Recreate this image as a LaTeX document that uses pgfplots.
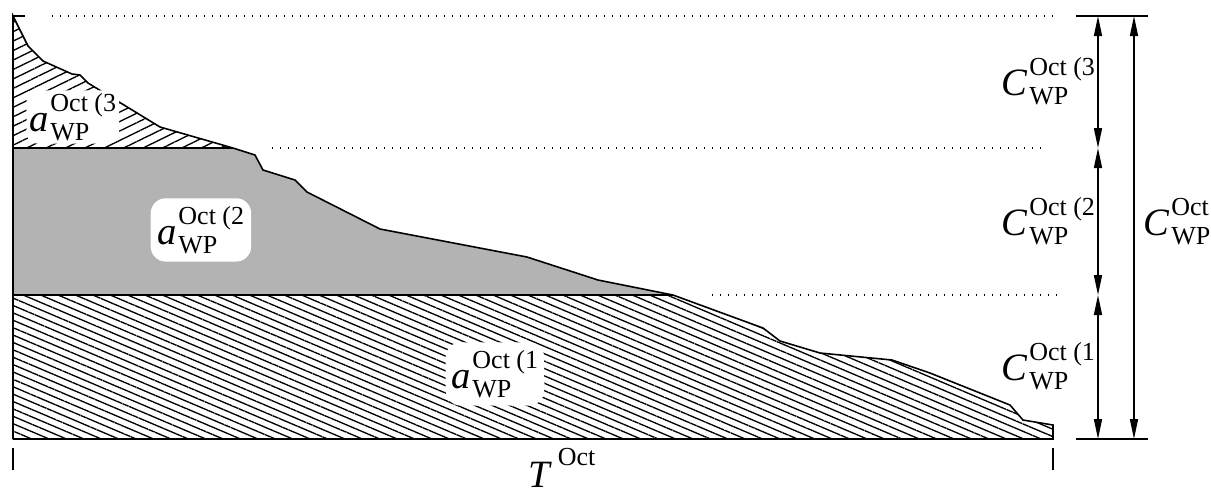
\documentclass[border=0pt]{standalone}
\usepackage{fontspec}
\setmainfont{Liberation Serif}
\usepackage{pgfplots}
\pgfplotsset{compat=1.18}
\usetikzlibrary{patterns.meta,arrows.meta}
\definecolor{areagray}{HTML}{B3B3B3}
\newcommand{\lab}[3]{{\fontsize{11}{13}\selectfont\textit{#1}}\kern0.4pt{\fontsize{7.4}{9}\selectfont\raisebox{5.6pt}{\rlap{#2}}\raisebox{-2.6pt}{\rlap{#3}}\phantom{#2}}}
\begin{document}
\begin{tikzpicture}
\begin{axis}[width=12.11cm,height=4.92cm,scale only axis,
  xmin=0,xmax=1211,ymin=0,ymax=492,y dir=reverse,hide axis,clip=false]
\path (axis cs:0,0) rectangle (axis cs:1211,492);
% layer 1 (bottom, hatched)
\addplot[draw=none,pattern={Lines[angle=-23,distance=0.68mm,line width=0.38pt]}] coordinates {
(13,295)(673,295)(763,328)(780,341)(820,353)(892,360)(930,373)(1010,405)(1023,420)(1053,425)(1053,439)(13,439)} --cycle;
% layer 2 (grey)
\addplot[draw=none,fill=areagray] coordinates {
(13,148)(233,148)(255,155)(263,170)(295,180)(307,192)(380,229)(527,257)(598,280)(673,295)(13,295)} --cycle;
% layer 3 (top, hatched)
\addplot[draw=none,pattern={Lines[angle=26,distance=0.85mm,line width=0.38pt]}] coordinates {
(13,16)(28,46)(43,61)(72,74)(80,75)(88,83)(160,127)(233,148)(13,148)} --cycle;
% outlines
\addplot[black,line width=0.45pt] coordinates {
(13,439)(13,16)(28,46)(43,61)(72,74)(80,75)(88,83)(160,127)(233,148)(255,155)(263,170)(295,180)(307,192)(380,229)(527,257)(598,280)(673,295)(763,328)(780,341)(820,353)(892,360)(930,373)(1010,405)(1023,420)(1053,425)(1053,439)(13,439)};
\addplot[black,line width=0.45pt] coordinates {(13,148)(233,148)};
\addplot[black,line width=0.45pt] coordinates {(13,295)(673,295)};
\addplot[black,line width=0.45pt] coordinates {(13,16)(25,16)};
% dotted guide lines
\draw[line width=0.4pt,dash pattern=on 0.15mm off 0.65mm] (axis cs:52,16) -- (axis cs:1052,16);
\draw[line width=0.4pt,dash pattern=on 0.15mm off 0.65mm] (axis cs:272,148) -- (axis cs:1047,148);
\draw[line width=0.4pt,dash pattern=on 0.15mm off 0.65mm] (axis cs:712,295) -- (axis cs:1057,295);
% right-hand dimension lines
\draw[line width=0.45pt] (axis cs:1076,16) -- (axis cs:1148,16);
\draw[line width=0.45pt] (axis cs:1076,439) -- (axis cs:1148,439);
\tikzset{dim/.style={line width=0.45pt,{Triangle[length=2mm,width=0.8mm]}-{Triangle[length=2mm,width=0.8mm]}}}
\draw[dim] (axis cs:1098,16) -- (axis cs:1098,148);
\draw[dim] (axis cs:1098,148) -- (axis cs:1098,295);
\draw[dim] (axis cs:1098,295) -- (axis cs:1098,439);
\draw[dim] (axis cs:1134,16) -- (axis cs:1134,439);
% bottom ticks
\draw[line width=0.45pt] (axis cs:13,448) -- (axis cs:13,470);
\draw[line width=0.45pt] (axis cs:1053,448) -- (axis cs:1053,470);
% labels
\node[anchor=base west,inner sep=0pt] at (axis cs:1001,95) {\lab{C}{Oct (3}{WP}};
\node[anchor=base west,inner sep=0pt] at (axis cs:1001,235) {\lab{C}{Oct (2}{WP}};
\node[anchor=base west,inner sep=0pt] at (axis cs:1001,380) {\lab{C}{Oct (1}{WP}};
\node[anchor=base west,inner sep=0pt] at (axis cs:1143,235) {\lab{C}{Oct}{WP}};
\node[anchor=base west,fill=white,inner sep=0.3mm,rounded corners=1mm] at (axis cs:26,131) {\lab{a}{Oct (3}{WP}};
\node[anchor=base west,fill=white,inner xsep=0.7mm,inner ysep=0.8mm,rounded corners=1.5mm] at (axis cs:150,244) {\lab{a}{Oct (2}{WP}};
\node[anchor=base west,fill=white,inner xsep=0.6mm,inner ysep=0.8mm,rounded corners=1.5mm] at (axis cs:445,388) {\lab{a}{Oct (1}{WP}};
\node[anchor=base west,inner sep=0pt] at (axis cs:528,487) {{\fontsize{11}{13}\selectfont\textit{T}}\kern1.5pt{\fontsize{7.4}{9}\selectfont\raisebox{6pt}{Oct}}};
\end{axis}
\end{tikzpicture}
\end{document}
